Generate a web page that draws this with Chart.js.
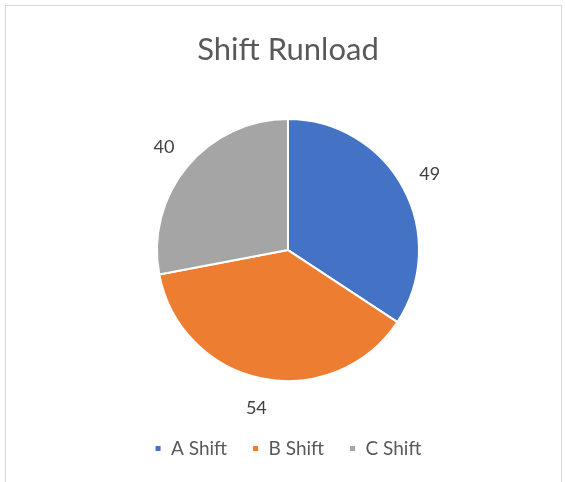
<!DOCTYPE html>
<html>
<head>
<meta charset="utf-8">
<script src="https://cdn.jsdelivr.net/npm/chart.js@4.4.1/dist/chart.umd.min.js"></script>
<style>
    html, body { margin: 0; padding: 0; background: #fff; }
    #wrap { position: relative; width: 565px; height: 482px; overflow: hidden; }
    #frame { position: absolute; left: 5px; top: 5px; width: 557px; height: 500px; border: 1px solid #d9d9d9; box-sizing: border-box; }
    canvas { position: absolute; left: 0; top: 0; }
</style>
</head>
<body>
<div id="wrap">
    <div id="frame"></div>
    <canvas id="chart" width="565" height="482"></canvas>
</div>
<script>
const chartTitle = 'Shift Runload';
const shifts = ['A Shift', 'B Shift', 'C Shift'];
const runload = [49, 54, 40];
const sliceColors = ['#4472c4', '#ed7d31', '#a5a5a5'];

// draws the value of each slice just outside the pie
const outsideLabels = {
    id: 'outsideLabels',
    afterDatasetsDraw(chart) {
        const ctx = chart.ctx;
        const meta = chart.getDatasetMeta(0);
        ctx.save();
        ctx.font = '18px Lato';
        ctx.fillStyle = '#404040';
        ctx.textAlign = 'center';
        ctx.textBaseline = 'middle';
        meta.data.forEach((arc, i) => {
            const mid = (arc.startAngle + arc.endAngle) / 2;
            const r = arc.outerRadius + 30;
            const x = arc.x + Math.cos(mid) * r;
            const y = arc.y + Math.sin(mid) * r;
            ctx.fillText(String(runload[i]), x, y);
        });
        ctx.restore();
    }
};

new Chart(document.getElementById('chart'), {
    type: 'pie',
    data: {
        labels: shifts,
        datasets: [{
            data: runload,
            backgroundColor: sliceColors,
            borderColor: '#ffffff',
            borderWidth: 2,
            radius: 131
        }]
    },
    options: {
        responsive: false,
        animation: false,
        layout: { padding: { top: 20, bottom: 14, left: 11, right: 0 } },
        plugins: {
            title: {
                display: true,
                text: chartTitle,
                color: '#595959',
                font: { family: 'Lato', size: 31, weight: 'normal' },
                padding: { top: 11, bottom: 18 }
            },
            legend: {
                position: 'bottom',
                labels: {
                    color: '#595959',
                    font: { family: 'Lato', size: 19 },
                    boxWidth: 7,
                    boxHeight: 7,
                    padding: 25
                }
            },
            tooltip: { enabled: false }
        }
    },
    plugins: [outsideLabels]
});
</script>
</body>
</html>
